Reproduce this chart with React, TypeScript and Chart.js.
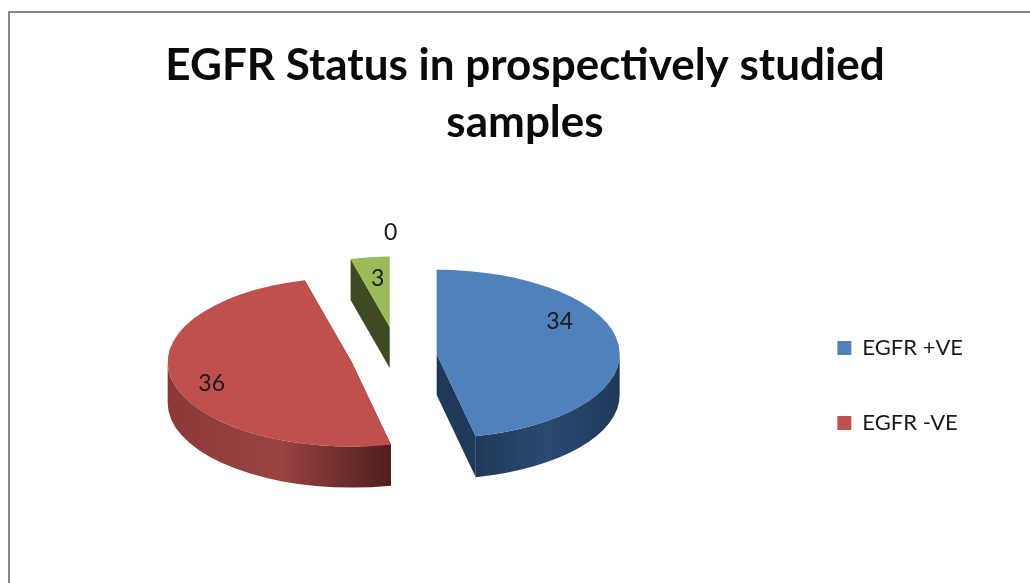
import React, { useEffect, useRef } from "react";
import { Chart, registerables } from "chart.js";

Chart.register(...registerables);

const chartTitle = ["EGFR Status in prospectively studied", "samples"];
const categories = ["EGFR +VE", "EGFR -VE", "", ""];
const values = [34, 36, 3, 0];
const topColors = ["#4F81BD", "#C0504D", "#9BBB59", "#8064A2"];
const faceColors = ["#1F3958", "#5A2322", "#3E4A21", "#3E3150"];
const rimStops = [
  ["#1F3958", "#2A4A72", "#1F3958"],
  ["#8A3836", "#9A4442", "#4E1E1D"],
  ["#3E4A21", "#3E4A21", "#3E4A21"],
  ["#3E3150", "#3E3150", "#3E3150"],
];

// presentation of the exploded 3-D look
const SQUASH = 0.46;
const DEPTH = 41;
const sliceRadius = [183, 184, 153, 150];
const sliceShiftX = [47, -38, 0, 0];
const sliceShiftY = [7, 15, -20, 0];
const labelShiftX = [123, -140, -12, 1];
const labelShiftY = [-32, 22, -48, -114];

const look = {
  id: "look3d",
  beforeDraw(chart: any) {
    const { ctx, width, height } = chart;
    ctx.save();
    ctx.fillStyle = "#ffffff";
    ctx.fillRect(0, 0, width, height);
    ctx.strokeStyle = "#868686";
    ctx.lineWidth = 2;
    ctx.beginPath();
    ctx.moveTo(9, height + 2);
    ctx.lineTo(9, 12);
    ctx.lineTo(width + 2, 12);
    ctx.stroke();
    ctx.restore();
  },
  afterLayout(chart: any) {
    const title = chart.titleBlock;
    title.left += 41;
    title.right += 41;
    const legend = chart.legend;
    legend.top += 114;
    legend.bottom += 114;
    legend.left += 5;
    legend.right += 5;
  },
  afterDatasetsUpdate(chart: any) {
    const cy = (chart.chartArea.top + chart.chartArea.bottom) / 2;
    chart.getDatasetMeta(0).data.forEach((arc: any, i: number) => {
      arc.x += sliceShiftX[i];
      arc.y = cy + sliceShiftY[i] / SQUASH;
      arc.outerRadius = sliceRadius[i];
    });
  },
  beforeDatasetsDraw(chart: any) {
    const { ctx } = chart;
    const cy = (chart.chartArea.top + chart.chartArea.bottom) / 2;
    chart.getDatasetMeta(0).data.forEach((arc: any, i: number) => {
      const { x, y, outerRadius: r, startAngle: a0, endAngle: a1 } = arc;
      if (a1 <= a0) return;
      const sy = cy + SQUASH * (y - cy);
      const ry = r * SQUASH;
      ctx.save();
      ctx.fillStyle = faceColors[i];
      [a0, a1].forEach((a: number) => {
        const ex = x + r * Math.cos(a);
        const ey = sy + ry * Math.sin(a);
        ctx.beginPath();
        ctx.moveTo(x, sy);
        ctx.lineTo(ex, ey);
        ctx.lineTo(ex, ey + DEPTH);
        ctx.lineTo(x, sy + DEPTH);
        ctx.closePath();
        ctx.fill();
      });
      const lo = Math.max(a0, 0);
      const hi = Math.min(a1, Math.PI);
      if (hi > lo) {
        const xa = x + r * Math.cos(lo);
        const xb = x + r * Math.cos(hi);
        const g = ctx.createLinearGradient(Math.min(xa, xb), 0, Math.max(xa, xb), 0);
        const stops = rimStops[i];
        g.addColorStop(0, stops[0]);
        g.addColorStop(0.5, stops[1]);
        g.addColorStop(1, stops[2]);
        ctx.fillStyle = g;
        ctx.beginPath();
        ctx.ellipse(x, sy, r, ry, 0, lo, hi, false);
        ctx.ellipse(x, sy + DEPTH, r, ry, 0, hi, lo, true);
        ctx.closePath();
        ctx.fill();
      }
      ctx.restore();
    });
    ctx.save();
    ctx.translate(0, cy);
    ctx.scale(1, SQUASH);
    ctx.translate(0, -cy);
  },
  afterDatasetsDraw(chart: any) {
    const { ctx } = chart;
    ctx.restore();
    const cy = (chart.chartArea.top + chart.chartArea.bottom) / 2;
    ctx.save();
    ctx.fillStyle = "#1a1a1a";
    ctx.font = "23px Lato";
    ctx.textAlign = "center";
    ctx.textBaseline = "middle";
    chart.getDatasetMeta(0).data.forEach((arc: any, i: number) => {
      const sy = cy + SQUASH * (arc.y - cy);
      ctx.fillText(String(values[i]), arc.x + labelShiftX[i], sy + labelShiftY[i]);
    });
    ctx.restore();
  },
};

export default function App() {
  const ref = useRef<HTMLCanvasElement>(null);
  useEffect(() => {
    const chart = new Chart(ref.current as HTMLCanvasElement, {
      type: "pie",
      data: {
        labels: categories,
        datasets: [
          {
            data: values,
            backgroundColor: topColors,
            borderWidth: 0,
            clip: false,
          } as any,
        ],
      },
      options: {
        responsive: false,
        animation: false,
        rotation: 0,
        radius: 180,
        layout: { padding: { left: 0, right: 62, top: 0, bottom: 40 } },
        plugins: {
          title: {
            display: true,
            text: chartTitle,
            color: "#0a0a0a",
            font: { family: "Lato", size: 44, weight: "bold", lineHeight: 1.295 },
            padding: { top: 37, bottom: 0 },
          },
          legend: {
            position: "right",
            labels: {
              color: "#1a1a1a",
              font: { family: "Lato", size: 22 },
              boxWidth: 14,
              boxHeight: 14,
              padding: 53,
              filter: (item: any) => item.text !== "",
            },
          },
          tooltip: { enabled: false },
        },
      },
      plugins: [look],
    } as any);
    return () => chart.destroy();
  }, []);
  return (
    <div style={{ position: "absolute", left: 0, top: 0, width: 1030, height: 583, overflow: "hidden", background: "#fff" }}>
      <canvas ref={ref} width={1030} height={583} style={{ display: "block" }} />
    </div>
  );
}
